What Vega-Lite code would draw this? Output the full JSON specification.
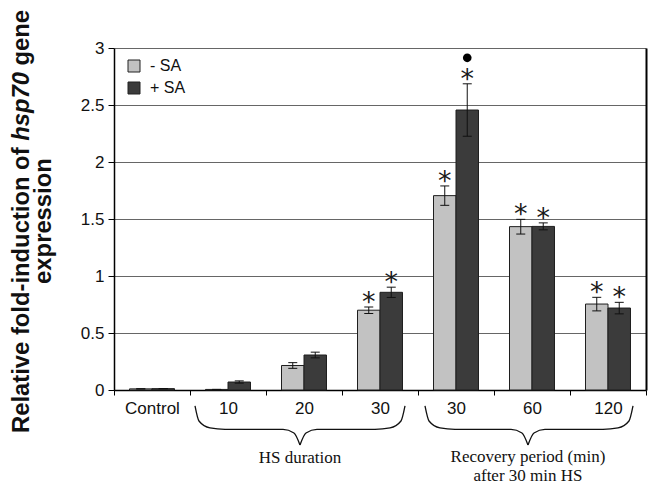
{
  "$schema": "https://vega.github.io/schema/vega-lite/v6.json",
  "width": 532,
  "height": 342,
  "autosize": {"type": "none"},
  "padding": {"left": 114, "top": 48, "right": 3, "bottom": 97},
  "background": "white",
  "config": {"view": {"stroke": null}, "font": "Liberation Sans"},
  "datasets": {
    "bars": [
      {"cat": "Control", "treat": "- SA", "v": 0.01, "lo": 0.01, "hi": 0.01, "star": 0, "dot": 0},
      {"cat": "Control", "treat": "+ SA", "v": 0.012, "lo": 0.012, "hi": 0.012, "star": 0, "dot": 0},
      {"cat": "10", "treat": "- SA", "v": 0.005, "lo": 0.005, "hi": 0.005, "star": 0, "dot": 0},
      {"cat": "10", "treat": "+ SA", "v": 0.07, "lo": 0.06, "hi": 0.08, "star": 0, "dot": 0},
      {"cat": "20", "treat": "- SA", "v": 0.215, "lo": 0.19, "hi": 0.24, "star": 0, "dot": 0},
      {"cat": "20", "treat": "+ SA", "v": 0.307, "lo": 0.282, "hi": 0.332, "star": 0, "dot": 0},
      {"cat": "30a", "treat": "- SA", "v": 0.7, "lo": 0.672, "hi": 0.728, "star": 1, "dot": 0},
      {"cat": "30a", "treat": "+ SA", "v": 0.857, "lo": 0.812, "hi": 0.902, "star": 1, "dot": 0},
      {"cat": "30b", "treat": "- SA", "v": 1.705, "lo": 1.62, "hi": 1.79, "star": 1, "dot": 0},
      {"cat": "30b", "treat": "+ SA", "v": 2.456, "lo": 2.226, "hi": 2.686, "star": 1, "dot": 1},
      {"cat": "60", "treat": "- SA", "v": 1.433, "lo": 1.368, "hi": 1.497, "star": 1, "dot": 0},
      {"cat": "60", "treat": "+ SA", "v": 1.435, "lo": 1.405, "hi": 1.466, "star": 1, "dot": 0},
      {"cat": "120", "treat": "- SA", "v": 0.754, "lo": 0.694, "hi": 0.813, "star": 1, "dot": 0},
      {"cat": "120", "treat": "+ SA", "v": 0.719, "lo": 0.668, "hi": 0.769, "star": 1, "dot": 0}
    ],
    "brace": [
      {"seg": "L1", "bx": 1.066, "by": -0.14},
      {"seg": "L1", "bx": 1.118, "by": -0.272},
      {"seg": "L1", "bx": 1.263, "by": -0.333},
      {"seg": "L1", "bx": 1.461, "by": -0.346},
      {"seg": "L1", "bx": 2.224, "by": -0.346},
      {"seg": "L1", "bx": 2.368, "by": -0.377},
      {"seg": "L1", "bx": 2.447, "by": -0.482},
      {"seg": "L2", "bx": 2.447, "by": -0.482},
      {"seg": "L2", "bx": 2.526, "by": -0.377},
      {"seg": "L2", "bx": 2.671, "by": -0.346},
      {"seg": "L2", "bx": 3.434, "by": -0.346},
      {"seg": "L2", "bx": 3.632, "by": -0.333},
      {"seg": "L2", "bx": 3.776, "by": -0.272},
      {"seg": "L2", "bx": 3.829, "by": -0.14},
      {"seg": "R1", "bx": 4.092, "by": -0.14},
      {"seg": "R1", "bx": 4.145, "by": -0.272},
      {"seg": "R1", "bx": 4.289, "by": -0.333},
      {"seg": "R1", "bx": 4.487, "by": -0.346},
      {"seg": "R1", "bx": 5.224, "by": -0.346},
      {"seg": "R1", "bx": 5.368, "by": -0.377},
      {"seg": "R1", "bx": 5.447, "by": -0.482},
      {"seg": "R2", "bx": 5.447, "by": -0.482},
      {"seg": "R2", "bx": 5.526, "by": -0.377},
      {"seg": "R2", "bx": 5.671, "by": -0.346},
      {"seg": "R2", "bx": 6.434, "by": -0.346},
      {"seg": "R2", "bx": 6.632, "by": -0.333},
      {"seg": "R2", "bx": 6.776, "by": -0.272},
      {"seg": "R2", "bx": 6.829, "by": -0.14}
    ],
    "notes": [
      {"tx": 2.447, "ty": -0.64, "label": "HS duration"},
      {"tx": 5.447, "ty": -0.632, "label": "Recovery period (min)"},
      {"tx": 5.447, "ty": -0.798, "label": "after 30 min HS"}
    ],
    "ytitle": [
      {"tx": -1.21, "ty": -0.377, "label": "Relative fold-induction of", "style": "n"},
      {"tx": -1.21, "ty": 2.186, "label": "hsp70", "style": "i"},
      {"tx": -1.21, "ty": 2.847, "label": "gene", "style": "n"},
      {"tx": -0.921, "ty": 1.482, "label": "expression", "style": "c"}
    ]
  },
  "layer": [
    {
      "data": {"name": "bars"},
      "encoding": {
        "x": {
          "field": "cat",
          "type": "nominal",
          "sort": ["Control", "10", "20", "30a", "30b", "60", "120"],
          "scale": {"paddingInner": 0, "paddingOuter": 0},
          "axis": {
            "title": null,
            "labelAngle": 0,
            "labelFontSize": 17,
            "labelColor": "#111",
            "labelPadding": 5,
            "tickBand": "extent",
            "tickSize": 5,
            "tickColor": "#000",
            "domainColor": "#000",
            "domainWidth": 1.5,
            "labelExpr": "(datum.value == '30a' || datum.value == '30b') ? '30' : datum.label"
          }
        },
        "xOffset": {
          "field": "treat",
          "type": "nominal",
          "sort": ["- SA", "+ SA"],
          "scale": {"paddingInner": 0, "paddingOuter": 0.69}
        }
      },
      "layer": [
        {
          "mark": {"type": "bar", "stroke": "#1e1e1e", "strokeWidth": 1},
          "encoding": {
            "y": {
              "field": "v",
              "type": "quantitative",
              "scale": {"domain": [0, 3], "nice": false},
              "axis": {
                "title": null,
                "values": [0, 0.5, 1, 1.5, 2, 2.5, 3],
                "format": "~g",
                "labelFontSize": 17,
                "labelColor": "#111",
                "labelPadding": 4,
                "tickSize": 6,
                "tickColor": "#000",
                "domainColor": "#000",
                "domainWidth": 1.5,
                "grid": true,
                "gridColor": "#666666",
                "gridWidth": 1
              }
            },
            "color": {
              "field": "treat",
              "type": "nominal",
              "sort": ["- SA", "+ SA"],
              "scale": {"domain": ["- SA", "+ SA"], "range": ["#c2c2c2", "#3b3b3b"]},
              "legend": {
                "orient": "none",
                "legendX": 12,
                "legendY": 10,
                "title": null,
                "symbolType": "square",
                "symbolSize": 144,
                "symbolStrokeColor": "#222",
                "symbolStrokeWidth": 1,
                "symbolOpacity": 1,
                "labelFontSize": 16,
                "labelColor": "#111",
                "rowPadding": 6,
                "labelOffset": 8
              }
            }
          }
        },
        {
          "mark": {"type": "rule", "color": "#111", "strokeWidth": 1},
          "encoding": {
            "y": {"field": "lo", "type": "quantitative", "scale": {"domain": [0, 3], "nice": false}},
            "y2": {"field": "hi"}
          }
        },
        {
          "mark": {"type": "tick", "color": "#111", "thickness": 1, "size": 9, "opacity": 1},
          "encoding": {
            "y": {"field": "lo", "type": "quantitative", "scale": {"domain": [0, 3], "nice": false}}
          }
        },
        {
          "mark": {"type": "tick", "color": "#111", "thickness": 1, "size": 9, "opacity": 1},
          "encoding": {
            "y": {"field": "hi", "type": "quantitative", "scale": {"domain": [0, 3], "nice": false}}
          }
        },
        {
          "transform": [{"filter": "datum.star == 1"}],
          "mark": {"type": "text", "text": "*", "font": "DejaVu Sans", "fontSize": 27, "baseline": "alphabetic", "dy": 4, "color": "#1a1a1a"},
          "encoding": {
            "y": {"field": "hi", "type": "quantitative", "scale": {"domain": [0, 3], "nice": false}}
          }
        },
        {
          "transform": [{"filter": "datum.dot == 1"}],
          "mark": {"type": "point", "filled": true, "color": "#000", "size": 75, "opacity": 1, "yOffset": -26},
          "encoding": {
            "y": {"field": "hi", "type": "quantitative", "scale": {"domain": [0, 3], "nice": false}}
          }
        }
      ]
    },
    {
      "layer": [
        {
          "data": {"name": "brace"},
          "mark": {"type": "line", "interpolate": "monotone", "color": "#111", "strokeWidth": 1.3},
          "encoding": {
            "x": {"field": "bx", "type": "quantitative", "scale": {"domain": [0, 7], "nice": false, "zero": false}, "axis": null},
            "y": {
              "field": "by",
              "type": "quantitative",
              "scale": {"domain": [0, 3], "nice": false},
              "axis": {"orient": "right", "labels": false, "ticks": false, "grid": false, "title": null, "domainColor": "#000", "domainWidth": 2}
            },
            "detail": {"field": "seg"}
          }
        },
        {
          "data": {"name": "notes"},
          "mark": {"type": "text", "font": "Liberation Serif", "fontSize": 17, "align": "center", "baseline": "alphabetic", "color": "#111"},
          "encoding": {
            "x": {"field": "tx", "type": "quantitative", "scale": {"domain": [0, 7], "nice": false, "zero": false}, "axis": null},
            "y": {"field": "ty", "type": "quantitative", "scale": {"domain": [0, 3], "nice": false}},
            "text": {"field": "label"}
          }
        },
        {
          "data": {"name": "ytitle"},
          "transform": [{"filter": "datum.style == 'n'"}],
          "mark": {"type": "text", "angle": 270, "align": "left", "baseline": "middle", "fontSize": 23.8, "fontWeight": "bold", "color": "#111"},
          "encoding": {
            "x": {"field": "tx", "type": "quantitative", "scale": {"domain": [0, 7], "nice": false, "zero": false}, "axis": null},
            "y": {"field": "ty", "type": "quantitative", "scale": {"domain": [0, 3], "nice": false}},
            "text": {"field": "label"}
          }
        },
        {
          "data": {"name": "ytitle"},
          "transform": [{"filter": "datum.style == 'i'"}],
          "mark": {"type": "text", "angle": 270, "align": "left", "baseline": "middle", "fontSize": 23.8, "fontWeight": "bold", "fontStyle": "italic", "color": "#111"},
          "encoding": {
            "x": {"field": "tx", "type": "quantitative", "scale": {"domain": [0, 7], "nice": false, "zero": false}, "axis": null},
            "y": {"field": "ty", "type": "quantitative", "scale": {"domain": [0, 3], "nice": false}},
            "text": {"field": "label"}
          }
        },
        {
          "data": {"name": "ytitle"},
          "transform": [{"filter": "datum.style == 'c'"}],
          "mark": {"type": "text", "angle": 270, "align": "center", "baseline": "middle", "fontSize": 23.8, "fontWeight": "bold", "color": "#111"},
          "encoding": {
            "x": {"field": "tx", "type": "quantitative", "scale": {"domain": [0, 7], "nice": false, "zero": false}, "axis": null},
            "y": {"field": "ty", "type": "quantitative", "scale": {"domain": [0, 3], "nice": false}},
            "text": {"field": "label"}
          }
        }
      ]
    }
  ],
  "resolve": {"scale": {"x": "independent"}, "axis": {"y": "independent"}}
}
